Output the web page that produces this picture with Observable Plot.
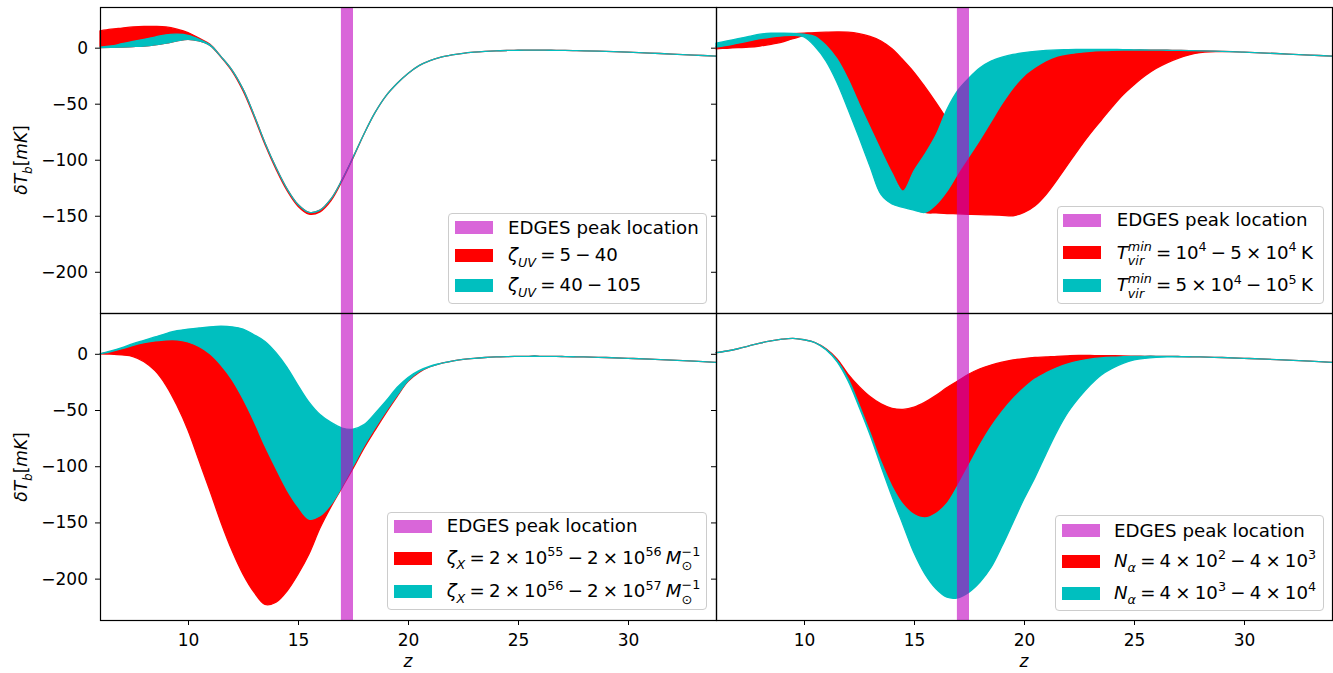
<!DOCTYPE html>
<html><head><meta charset="utf-8">
<script src="https://cdn.jsdelivr.net/npm/d3@7"></script>
<script src="https://cdn.jsdelivr.net/npm/@observablehq/plot@0.6"></script>
<style>
body{margin:0;background:#fff;}
#wrap{position:relative;width:1333px;height:673px;overflow:hidden;font-family:"DejaVu Sans",sans-serif;color:#000;}
#wrap svg{position:absolute;left:0;top:0;}
.leg{position:absolute;background:rgba(255,255,255,0.8);border:1px solid #cccccc;border-radius:4px;box-sizing:border-box;}
.patch{position:absolute;width:38px;height:13px;}
.ltxt{position:absolute;font-size:18.2px;height:22px;line-height:22px;white-space:nowrap;}
.ltxt.m{word-spacing:-1.6px;}
.ltxt sub,.ylab sub{font-size:70%;line-height:0;vertical-align:baseline;position:relative;top:0.42em;}
.ltxt sup{font-size:70%;line-height:0;vertical-align:baseline;position:relative;top:-0.6em;}
.ss{position:relative;font-size:70%;}
.ss .u{position:relative;top:-0.62em;}
.ss .d{position:absolute;left:0;top:0.5em;line-height:normal;}
.ylab{position:absolute;font-size:17px;white-space:nowrap;transform:translate(-50%,-50%) rotate(-90deg);}
.xlab{position:absolute;font-size:17px;font-style:italic;transform:translateX(-50%);}
</style>
</head><body>
<div id="wrap"></div>
<script>
// ---- data (z grid from 6 to 28 in steps of 0.5, then a shared tail) ----
const zGrid = [6,6.5,7,7.5,8, 8.5,9,9.5,10,10.5, 11,11.5,12,12.5,13, 13.5,14,14.5,15,15.5,
  16,16.5,17,17.5,18, 18.5,19,19.5,20,20.5, 21,21.5,22,22.5,23, 23.5,24,24.5,25,25.5, 26,26.5,27,27.5,28];
const zTail = [29,30,31,32,33,34];
const tailT = [-3.3,-4.0,-4.8,-5.7,-6.6,-7.6];

// Panel 1: zeta_UV
const uvRedLo = [0,0.2,0.6,1,1.5, 2.5,4,6,7.5,6, 2,-8.5,-21,-38.5,-61.5, -86.5,-108.5,-127.5,-141.5,-148.5,
  -146.5,-136.5,-119,-98.5,-77, -58,-43,-32,-23,-16, -11.5,-8.5,-6.5,-5,-4, -3.3,-2.8,-2.5,-2.3,-2.2, -2.2,-2.3,-2.4,-2.6,-2.8];
const uvRedHi = [15,16.5,17.5,18.5,19, 19,18.5,16.5,13.5,8.5, 3,-8,-20,-37,-60, -85,-107,-126,-140,-147,
  -145,-135,-118,-98,-77, -58,-43,-32,-23,-16, -11.5,-8.5,-6.5,-5,-4, -3.3,-2.8,-2.5,-2.3,-2.2, -2.2,-2.3,-2.4,-2.6,-2.8];
const uvCyanLo = [0,0.2,0.6,1,1.5, 2.5,4,6,7.5,6, 2,-8,-20,-37,-60, -85,-107,-126,-140,-147,
  -145,-135,-118,-98,-77, -58,-43,-32,-23,-16, -11.5,-8.5,-6.5,-5,-4, -3.3,-2.8,-2.5,-2.3,-2.2, -2.2,-2.3,-2.4,-2.6,-2.8];
const uvCyanHi = [0.5,1.5,3.5,5.5,7.5, 9.5,11.5,12,11,7.5, 2.5,-8,-20,-37,-60, -85,-107,-126,-140,-147,
  -145,-135,-118,-98,-77, -58,-43,-32,-23,-16, -11.5,-8.5,-6.5,-5,-4, -3.3,-2.8,-2.5,-2.3,-2.2, -2.2,-2.3,-2.4,-2.6,-2.8];

// Panel 2: T_vir^min
const tvRedLo = [-1,-0.5,0,0.5,1.5, 3,5,8,10.5,9.5, 2,-10,-28,-50,-71, -92,-112,-129,-141,-147,
  -147.5,-148,-148.3,-148.7,-149, -149.3,-149.6,-150,-147,-141, -131,-118,-104,-90,-77, -65,-53,-42,-33,-25, -18.5,-13.5,-9.5,-6.5,-4.5];
const tvRedHi = [1,2.5,4.5,6.5,8.5, 10.5,12,12.5,13,13.5, 13.8,14,13.8,12.5,10, 6,-1,-11,-22,-35,
  -49,-64,-80,-95,-82, -66,-50,-36,-25,-17.5, -11.5,-7.5,-5.5,-4.2,-3.3, -2.7,-2.3,-2.1,-2.1,-2.1, -2.2,-2.3,-2.4,-2.6,-2.8];
const tvCyanLo = [0.5,2,4,6,8, 9.5,10.5,11,9.5,1, -12,-31,-55,-80,-106, -131,-139.5,-142.5,-145,-147,
  -140,-128,-112,-97,-82, -66,-50,-36,-25,-17.5, -11.5,-7.5,-5.5,-4.2,-3.3, -2.7,-2.3,-2.1,-2.1,-2.1, -2.2,-2.3,-2.4,-2.6,-2.8];
const tvCyanHi = [4,6,8,10,12, 13,13,12.8,12,10, 2,-10,-28,-50,-71, -92,-112,-128,-110,-95,
  -78,-55,-38,-27,-18, -12,-8.5,-6,-4.5,-3.3, -2.5,-2,-1.8,-1.6,-1.5, -1.5,-1.6,-1.7,-1.9,-2, -2.2,-2.3,-2.4,-2.6,-2.8];

// Panel 3: zeta_X
const xLow = [0,-0.3,-1,-2.4,-7, -15,-28,-46,-68,-95, -122,-150,-175,-196,-212, -223,-221,-211,-196,-178,
  -155,-136,-119,-102,-84, -68,-52.5,-38,-24.5,-16.5, -11.5,-8.5,-6.5,-5,-4, -3.3,-2.8,-2.5,-2.3,-2.2, -2.2,-2.3,-2.4,-2.6,-2.8];
const xMid = [0,2,4.5,7.5,10, 11.5,12.5,12.5,10.5,6.5, 0,-10,-23,-40,-60, -82,-102,-121,-136,-147,
  -144,-134,-118,-100,-82, -66,-51,-37,-24,-16, -11.5,-8.5,-6.5,-5,-4, -3.3,-2.8,-2.5,-2.3,-2.2, -2.2,-2.3,-2.4,-2.6,-2.8];
const xHigh = [0,2.5,5.5,9,12, 15,18,20.5,22,23, 24,24.5,24,22,17, 11,1,-12,-28,-43,
  -54,-61,-66,-67,-63, -53,-42,-30,-21,-15, -11,-8.5,-6.5,-5,-4, -3.3,-2.8,-2.5,-2.3,-2.2, -2.2,-2.3,-2.4,-2.6,-2.8];

// Panel 4: N_alpha
const naHigh = [1,2.5,4.5,7,9.5, 11.5,13,13.7,12.5,10, 4.5,-4.5,-18,-29,-38, -44.5,-48.5,-49.5,-47.5,-43,
  -37,-30,-24,-18,-13.3, -10,-7.5,-5.5,-4.2,-3.3, -2.8,-2.2,-1.8,-1.5,-1.5, -1.6,-1.7,-1.9,-2.1,-2.2, -2.2,-2.3,-2.4,-2.6,-2.8];
const naMid = [1,2.5,4.5,7,9.5, 11.5,13,13.7,12.5,10, 4,-6,-22,-45,-70, -96,-118,-134,-143,-146,
  -142,-133,-117,-99,-81, -65,-51.5,-40,-30.5,-22.5, -17,-12.5,-9,-6.5,-4.8, -3.7,-3,-2.6,-2.3,-2.2, -2.2,-2.3,-2.4,-2.6,-2.8];
const naLow = [1,2.5,4.5,7,9.5, 11.5,13,13.7,12.5,10, 3.5,-7,-24,-47,-72, -100,-127,-152,-177,-196,
  -209,-216.5,-217,-212,-203, -190,-171,-150,-129,-110, -89,-69,-52,-39,-28, -19,-13,-8.5,-5.5,-4, -3.2,-2.8,-2.7,-2.7,-2.8];

const edgesRange = [16.95, 17.5];
const xTicks = [10,15,20,25,30];
const yTicks = [0,-50,-100,-150,-200];

const RED = "#ff0000", CYAN = "#00bfbf", MAG = "#bf00bf";

function rows(lo, hi) {
  return zGrid.map((z, i) => ({z, lo: lo[i], hi: hi[i]}))
    .concat(zTail.map((z, i) => ({z, lo: tailT[i], hi: tailT[i]})));
}

const panels = [
  {col: 0, row: 0, red: rows(uvRedLo, uvRedHi), cyan: rows(uvCyanLo, uvCyanHi)},
  {col: 1, row: 0, red: rows(tvRedLo, tvRedHi), cyan: rows(tvCyanLo, tvCyanHi)},
  {col: 0, row: 1, red: rows(xLow, xMid), cyan: rows(xMid, xHigh)},
  {col: 1, row: 1, red: rows(naMid, naHigh), cyan: rows(naLow, naMid)}
];

const wrap = document.getElementById("wrap");
const fmtY = d => d < 0 ? "\u2212" + Math.abs(d) : String(d);

for (const p of panels) {
  const svg = Plot.plot({
    width: 1333, height: 673,
    marginLeft: p.col ? 716 : 100,
    marginRight: p.col ? 1 : 617,
    marginTop: p.row ? 313 : 7,
    marginBottom: p.row ? 53 : 360,
    style: {background: "transparent", fontFamily: "DejaVu Sans, sans-serif", fontSize: "17px", overflow: "visible", color: "black"},
    x: p.row ? {domain: [6, 34], ticks: xTicks, tickSize: 5, tickPadding: 8, label: null}
             : {domain: [6, 34], axis: null},
    y: {domain: [-236.8, 36.3], ticks: yTicks, tickSize: 5, tickPadding: 7.5, label: null,
        tickFormat: p.col ? () => "" : fmtY},
    marks: [
      Plot.areaY(p.red, {x: "z", y1: "lo", y2: "hi", fill: RED, stroke: RED, strokeWidth: 1.3, curve: "catmull-rom"}),
      Plot.areaY(p.cyan, {x: "z", y1: "lo", y2: "hi", fill: CYAN, stroke: CYAN, strokeWidth: 1.3, curve: "catmull-rom"}),
      Plot.rect([edgesRange], {x1: d => d[0], x2: d => d[1], fill: MAG, fillOpacity: 0.6}),
      Plot.frame({stroke: "black", strokeWidth: 1.2})
    ]
  });
  wrap.appendChild(svg);
}

// ---- overlays: axis labels and legends ----
function add(html, cls, css) {
  const d = document.createElement("div");
  d.className = cls; d.innerHTML = html; Object.assign(d.style, css); wrap.appendChild(d); return d;
}
const yl = '<i>δT</i><sub><i>b</i></sub>[<i>mK</i>]';
add(yl, "ylab", {left: "21px", top: "160px"});
add(yl, "ylab", {left: "21px", top: "467px"});
add("z", "xlab", {left: "408px", top: "651px"});
add("z", "xlab", {left: "1024px", top: "651px"});

const stack = (up, dn) => `<span class="ss"><span class="u">${up}</span><span class="d">${dn}</span></span>`;
const legends = [
  {box: [448, 213, 259, 91], px: 454.5, tx: 508, cy: [227.5, 255.3, 285.3],
   labels: ["EDGES peak location",
     '<i>ζ</i><sub><i>UV</i></sub> = 5 − 40',
     '<i>ζ</i><sub><i>UV</i></sub> = 40 − 105']},
  {box: [1057, 206, 267, 98], px: 1063.3, tx: 1116.7, cy: [220.3, 252.5, 285.3],
   labels: ["EDGES peak location",
     '<i>T</i>' + stack('<i>min</i>', '<i>vir</i>') + ' = 10<sup>4</sup> − 5 × 10<sup>4</sup> K',
     '<i>T</i>' + stack('<i>min</i>', '<i>vir</i>') + ' = 5 × 10<sup>4</sup> − 10<sup>5</sup> K']},
  {box: [387.3, 511.7, 320, 98.3], px: 394, tx: 446.7, cy: [526.3, 558, 591.3],
   labels: ["EDGES peak location",
     '<i>ζ</i><sub><i>X</i></sub> = 2 × 10<sup>55</sup> − 2 × 10<sup>56</sup> <i>M</i>' + stack('−1', '⊙'),
     '<i>ζ</i><sub><i>X</i></sub> = 2 × 10<sup>56</sup> − 2 × 10<sup>57</sup> <i>M</i>' + stack('−1', '⊙')]},
  {box: [1055, 515, 269, 96], px: 1061.7, tx: 1114, cy: [530.5, 561, 593],
   labels: ["EDGES peak location",
     '<i>N</i><sub><i>α</i></sub> = 4 × 10<sup>2</sup> − 4 × 10<sup>3</sup>',
     '<i>N</i><sub><i>α</i></sub> = 4 × 10<sup>3</sup> − 4 × 10<sup>4</sup>']}
];
const patchColors = ["rgba(191,0,191,0.6)", RED, CYAN];
for (const L of legends) {
  add("", "leg", {left: L.box[0] + "px", top: L.box[1] + "px", width: L.box[2] + "px", height: L.box[3] + "px"});
  L.labels.forEach((lab, i) => {
    add("", "patch", {left: L.px + "px", top: (L.cy[i] - 6.5) + "px", background: patchColors[i]});
    add(lab, i ? "ltxt m" : "ltxt", {left: L.tx + "px", top: (L.cy[i] - 11) + "px"});
  });
}
</script>
</body></html>
